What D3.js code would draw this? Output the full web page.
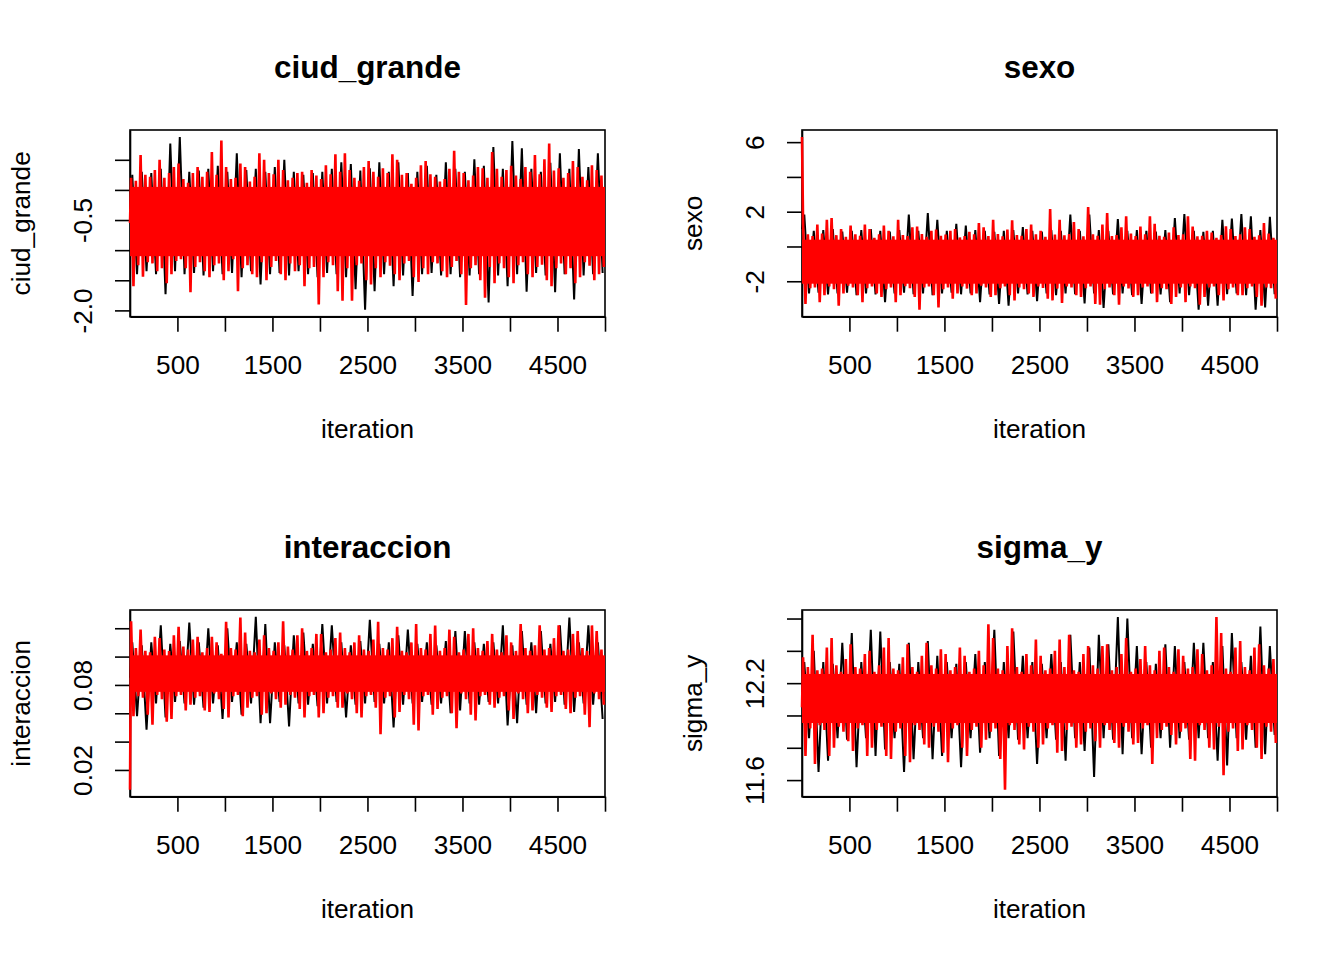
<!DOCTYPE html>
<html>
<head>
<meta charset="utf-8">
<script src="https://cdn.jsdelivr.net/npm/d3@7"></script>
<style>
body { margin: 0; background: #fff; }
svg { display: block; font-family: "Liberation Sans", Arial, sans-serif; }
</style>
</head>
<body>
<div id="main"></div>
<script>
// chains summarised per block of iterations: max (Hi) and min (Lo)
// red chain: blocks of 50 iterations (100 values), black chain: blocks of 100 (50 values)
// start = value at iteration 1, [black, red]

var xTicks = [500, 1000, 1500, 2000, 2500, 3000, 3500, 4000, 4500, 5000];
var xLabels = [500, 1500, 2500, 3500, 4500];

// ciud_grande
var ciudStart = [-0.45, -0.55];
var ciudRedHi = [0.20,0.15, 0.58,0.25, 0.22,0.33, 0.50,0.20, 0.28,0.38,
    0.44,0.18, 0.12,0.28, 0.38,0.22, 0.30,0.63, 0.25,0.82,
    0.38,0.18, 0.20,0.44, 0.38,0.14, 0.22,0.61, 0.50,0.28,
    0.26,0.50, 0.33,0.16, 0.20,0.28, 0.30,0.12, 0.33,0.24,
    0.18,0.41, 0.26,0.59, 0.30,0.61, 0.33,0.20, 0.15,0.38,
    0.48,0.30, 0.22,0.36, 0.28,0.59, 0.50,0.25, 0.28,0.10,
    0.20,0.41, 0.48,0.26, 0.22,0.14, 0.18,0.35, 0.65,0.30,
    0.28,0.16, 0.24,0.38, 0.36,0.20, 0.63,0.35, 0.22,0.33,
    0.40,0.24, 0.18,0.38, 0.30,0.58, 0.26,0.51, 0.77,0.32,
    0.36,0.20, 0.28,0.48, 0.38,0.22, 0.16,0.41, 0.33,0.24];
var ciudRedLo = [-1.60,-1.25, -1.44,-1.20, -1.22,-1.35, -1.30,-1.55, -1.40,-1.18,
    -1.15,-1.30, -1.70,-1.28, -1.20,-1.35, -1.45,-1.25, -1.22,-1.50,
    -1.35,-1.15, -1.68,-1.30, -1.25,-1.40, -1.45,-1.20, -1.50,-1.28,
    -1.18,-1.40, -1.50,-1.22, -1.35,-1.25, -1.60,-1.30, -1.28,-1.90,
    -1.45,-1.20, -1.25,-1.68, -1.84,-1.30, -1.84,-1.25, -1.22,-1.50,
    -1.57,-1.30, -1.45,-1.20, -1.26,-1.40, -1.50,-1.22, -1.18,-1.45,
    -1.53,-1.30, -1.40,-1.20, -1.22,-1.35, -1.45,-1.28, -1.18,-1.40,
    -1.91,-1.30, -1.25,-1.50, -1.79,-1.28, -1.55,-1.22, -1.30,-1.45,
    -1.55,-1.25, -1.20,-1.40, -1.45,-1.28, -1.24,-1.50, -1.60,-1.30,
    -1.22,-1.40, -1.30,-1.55, -1.45,-1.20, -1.26,-1.50, -1.40,-1.28];
var ciudBlackHi = [0.25,0.30,0.28,0.35,0.77,0.88,0.30,0.32,0.35,0.40,
    0.30,0.61,0.33,0.35,0.30,0.38,0.50,0.30,0.25,0.28,
    0.30,0.35,0.46,0.43,0.32,0.36,0.46,0.30,0.46,0.28,
    0.30,0.40,0.25,0.46,0.35,0.30,0.51,0.40,0.71,0.35,
    0.81,0.69,0.35,0.30,0.45,0.61,0.35,0.68,0.38,0.61];
var ciudBlackLo = [-1.40,-1.35,-1.40,-1.73,-1.35,-1.40,-1.38,-1.42,-1.35,-1.40,
    -1.38,-1.45,-1.35,-1.57,-1.40,-1.38,-1.42,-1.35,-1.40,-1.45,
    -1.38,-1.40,-1.45,-1.65,-1.99,-1.68,-1.40,-1.60,-1.42,-1.76,
    -1.40,-1.38,-1.42,-1.40,-1.45,-1.42,-1.40,-1.87,-1.42,-1.60,
    -1.40,-1.69,-1.38,-1.42,-1.70,-1.40,-1.82,-1.42,-1.40,-1.38];
var ciudTicks = [-2.0, -1.5, -1.0, -0.5, 0.0, 0.5];
var ciudTickLabels = ["-2.0", "", "", "-0.5", "", ""];

// sexo
var sexoStart = [1.0, 6.3];
var sexoRedHi = [1.26,0.70, 0.60,1.26, 0.75,1.54, 1.64,0.65, 1.00,0.55,
    1.20,0.70, 0.62,1.26, 1.00,0.50, 0.70,1.20, 0.90,0.58,
    1.54,0.66, 0.60,1.10, 1.14,0.72, 0.55,0.90, 0.97,0.62,
    0.68,0.90, 1.00,0.52, 0.60,0.85, 0.70,1.35, 1.10,0.60,
    1.54,0.72, 0.58,0.97, 1.51,0.66, 0.62,1.00, 1.26,0.70,
    0.90,0.55, 2.15,0.68, 1.54,0.64, 0.72,1.40, 1.00,0.58,
    2.27,0.70, 0.62,1.26, 1.92,0.60, 0.66,1.10, 1.73,0.74,
    0.60,1.14, 0.70,1.73, 1.30,0.62, 0.55,0.80, 1.10,0.66,
    0.70,1.73, 1.14,0.58, 0.62,0.90, 0.80,0.50, 0.66,1.16,
    1.00,0.60, 0.70,1.10, 1.00,0.55, 0.64,1.35, 0.75,0.50];
var sexoRedLo = [-3.31,-2.40, -2.35,-3.20, -2.80,-2.30, -2.45,-3.41, -2.70,-2.25,
    -2.35,-2.80, -3.20,-2.40, -2.30,-2.70, -2.90,-2.45, -2.35,-3.20,
    -2.80,-2.28, -2.40,-2.90, -3.64,-2.35, -2.30,-2.80, -3.50,-2.45,
    -2.35,-3.00, -2.70,-2.30, -2.42,-2.80, -2.70,-2.25, -2.35,-2.90,
    -2.80,-2.40, -2.30,-2.80, -3.10,-2.35, -2.45,-2.70, -2.90,-2.30,
    -2.38,-3.00, -3.10,-2.42, -3.25,-2.30, -2.35,-2.80, -2.90,-2.40,
    -2.30,-3.30, -3.35,-2.45, -2.35,-2.80, -3.35,-2.30, -2.42,-2.90,
    -2.80,-2.35, -2.30,-2.70, -3.20,-2.40, -2.45,-3.30, -2.90,-2.35,
    -3.20,-2.30, -2.40,-3.35, -2.90,-2.35, -2.30,-2.80, -3.10,-2.45,
    -2.35,-2.80, -2.80,-2.40, -2.30,-2.90, -3.40,-2.35, -2.40,-3.00];
var sexoBlackHi = [1.83,0.90,0.95,1.00,0.85,0.90,0.95,1.00,0.90,0.85,
    0.95,1.83,0.90,1.92,1.54,0.90,1.30,1.20,0.95,0.90,
    0.85,0.90,0.95,1.12,0.90,0.85,0.95,0.90,1.83,0.90,
    1.83,0.95,0.90,1.58,0.90,0.95,0.90,0.85,0.95,1.64,
    1.87,0.90,0.85,0.90,1.54,1.60,1.87,1.73,0.95,1.70];
var sexoBlackLo = [-2.70,-2.65,-2.75,-2.70,-2.65,-2.80,-2.70,-2.75,-3.20,-2.70,
    -2.65,-2.75,-2.70,-2.80,-2.70,-2.65,-2.75,-2.70,-3.20,-2.75,
    -3.31,-3.41,-2.70,-2.75,-3.15,-2.70,-2.80,-2.70,-2.75,-3.28,
    -2.70,-3.54,-2.75,-2.70,-2.80,-3.31,-2.70,-2.75,-3.20,-2.70,
    -2.80,-3.64,-3.41,-3.41,-2.75,-2.70,-2.80,-3.64,-3.50,-2.75];
var sexoTicks = [-2, 0, 2, 4, 6];
var sexoTickLabels = ["-2", "", "2", "", "6"];

// interaccion
var interStart = [0.085, 0.006];
var interRedHi = [0.125,0.106, 0.119,0.104, 0.103,0.114, 0.113,0.105, 0.104,0.115,
    0.121,0.107, 0.105,0.112, 0.114,0.103, 0.106,0.114, 0.110,0.102,
    0.1245,0.106, 0.105,0.1276, 0.117,0.104, 0.103,0.112, 0.115,0.106,
    0.104,0.110, 0.125,0.107, 0.105,0.115, 0.120,0.104, 0.106,0.116,
    0.116,0.103, 0.105,0.113, 0.117,0.106, 0.103,0.110, 0.115,0.105,
    0.104,0.112, 0.1245,0.106, 0.105,0.113, 0.121,0.104, 0.103,0.110,
    0.123,0.106, 0.105,0.116, 0.122,0.104, 0.106,0.119, 0.114,0.103,
    0.105,0.116, 0.120,0.106, 0.104,0.111, 0.116,0.105, 0.103,0.115,
    0.110,0.104, 0.123,0.106, 0.104,0.108, 0.122,0.105, 0.106,0.113,
    0.122,0.104, 0.105,0.116, 0.118,0.106, 0.104,0.122, 0.118,0.105];
var interRedLo = [0.058,0.072, 0.071,0.059, 0.052,0.073, 0.070,0.054, 0.056,0.072,
    0.073,0.062, 0.066,0.071, 0.072,0.062, 0.061,0.074, 0.070,0.063,
    0.057,0.072, 0.073,0.058, 0.064,0.071, 0.072,0.059, 0.060,0.074,
    0.070,0.064, 0.066,0.073, 0.071,0.063, 0.057,0.072, 0.073,0.057,
    0.060,0.071, 0.072,0.064, 0.064,0.074, 0.070,0.060, 0.057,0.072,
    0.073,0.064, 0.0453,0.071, 0.072,0.057, 0.061,0.073, 0.070,0.052,
    0.0479,0.072, 0.073,0.059, 0.063,0.071, 0.072,0.060, 0.0495,0.074,
    0.070,0.059, 0.055,0.072, 0.073,0.066, 0.064,0.071, 0.072,0.062,
    0.056,0.074, 0.070,0.060, 0.062,0.073, 0.071,0.064, 0.061,0.072,
    0.073,0.063, 0.060,0.071, 0.072,0.059, 0.0502,0.074, 0.070,0.066];
var interBlackHi = [0.110,0.108,0.110,0.122,0.109,0.111,0.124,0.110,0.120,0.108,
    0.120,0.110,0.109,0.128,0.123,0.110,0.108,0.115,0.117,0.109,
    0.123,0.122,0.110,0.108,0.111,0.126,0.109,0.110,0.115,0.119,
    0.109,0.110,0.108,0.111,0.118,0.118,0.110,0.109,0.110,0.122,
    0.108,0.118,0.110,0.118,0.109,0.122,0.1276,0.110,0.122,0.110];
var interBlackLo = [0.058,0.0484,0.067,0.057,0.068,0.067,0.066,0.064,0.067,0.056,
    0.068,0.059,0.067,0.053,0.053,0.068,0.0507,0.067,0.066,0.065,
    0.067,0.068,0.057,0.066,0.067,0.068,0.067,0.050,0.066,0.067,
    0.068,0.066,0.067,0.060,0.062,0.067,0.066,0.068,0.067,0.0514,
    0.053,0.066,0.060,0.067,0.068,0.066,0.061,0.067,0.066,0.056];
var interTicks = [0.02, 0.04, 0.06, 0.08, 0.10, 0.12];
var interTickLabels = ["0.02", "", "", "0.08", "", ""];

// sigma_y
var sigmaStart = [12.1, 12.05];
var sigmaRedHi = [12.36,12.30, 12.50,12.28, 12.29,12.42, 12.48,12.31, 12.27,12.35,
    12.44,12.30, 12.29,12.38, 12.40,12.27, 12.31,12.42, 12.48,12.29,
    12.28,12.36, 12.44,12.30, 12.27,12.37, 12.45,12.31, 12.29,12.41,
    12.38,12.28, 12.30,12.42, 12.37,12.27, 12.29,12.40, 12.31,12.565,
    12.48,12.29, 12.28,12.43, 12.54,12.30, 12.27,12.38, 12.31,12.47,
    12.37,12.28, 12.29,12.40, 12.47,12.30, 12.50,12.28, 12.27,12.38,
    12.43,12.31, 12.29,12.43, 12.44,12.28, 12.30,12.38, 12.48,12.27,
    12.29,12.35, 12.43,12.31, 12.28,12.40, 12.42,12.30, 12.27,12.41,
    12.37,12.29, 12.30,12.41, 12.38,12.28, 12.31,12.61, 12.51,12.29,
    12.27,12.42, 12.46,12.30, 12.28,12.42, 12.44,12.31, 12.29,12.35];
var sigmaRedLo = [11.75,11.92, 11.70,11.94, 11.91,11.75, 11.80,11.93, 11.90,11.84,
    11.78,11.92, 11.94,11.75, 11.80,11.91, 11.93,11.75, 11.73,11.90,
    11.92,11.75, 11.71,11.94, 11.91,11.82, 11.80,11.93, 11.90,11.77,
    11.71,11.92, 11.94,11.80, 11.75,11.91, 11.93,11.80, 11.85,11.90,
    11.92,11.73, 11.54,11.94, 11.91,11.82, 11.79,11.93, 11.90,11.80,
    11.82,11.92, 11.94,11.77, 11.78,11.91, 11.93,11.80, 11.82,11.90,
    11.92,11.84, 11.80,11.94, 11.91,11.83, 11.80,11.93, 11.90,11.82,
    11.83,11.92, 11.94,11.70, 11.86,11.91, 11.93,11.88, 11.82,11.90,
    11.92,11.73, 11.72,11.94, 11.91,11.80, 11.79,11.93, 11.63,11.90,
    11.92,11.78, 11.79,11.94, 11.91,11.80, 11.73,11.93, 11.90,11.83];
var sigmaBlackHi = [12.33,12.40,12.33,12.32,12.45,12.51,12.33,12.53,12.52,12.33,
    12.32,12.45,12.33,12.46,12.37,12.33,12.32,12.33,12.38,12.33,
    12.53,12.33,12.52,12.37,12.33,12.32,12.38,12.33,12.50,12.33,
    12.42,12.50,12.44,12.61,12.60,12.43,12.33,12.32,12.44,12.43,
    12.33,12.45,12.45,12.33,12.43,12.51,12.33,12.37,12.55,12.43];
var sigmaBlackLo = [11.86,11.65,11.72,11.86,11.85,11.68,11.86,11.75,11.79,11.86,
    11.65,11.73,11.86,11.73,11.75,11.86,11.68,11.86,11.77,11.86,
    11.75,11.86,11.85,11.86,11.70,11.86,11.85,11.72,11.86,11.78,
    11.62,11.86,11.85,11.76,11.86,11.76,11.80,11.86,11.80,11.86,
    11.85,11.86,11.86,11.72,11.69,11.86,11.85,11.80,11.76,11.88];
var sigmaTicks = [11.6, 11.8, 12.0, 12.2, 12.4, 12.6];
var sigmaTickLabels = ["11.6", "", "", "12.2", "", ""];

(function () {

    var W = 1344, H = 960, N_ITER = 5000;
    var colLeft = [130, 802], rowTop = [130, 610];
    var plotW = 475, plotH = 186.7;
    var fontBase = 26.2;

    var panels = [
        {name: "ciud_grande", col: 0, row: 0, start: ciudStart,
            black: [ciudBlackHi, ciudBlackLo], red: [ciudRedHi, ciudRedLo],
            ticks: ciudTicks, labels: ciudTickLabels},
        {name: "sexo", col: 1, row: 0, start: sexoStart,
            black: [sexoBlackHi, sexoBlackLo], red: [sexoRedHi, sexoRedLo],
            ticks: sexoTicks, labels: sexoTickLabels},
        {name: "interaccion", col: 0, row: 1, start: interStart,
            black: [interBlackHi, interBlackLo], red: [interRedHi, interRedLo],
            ticks: interTicks, labels: interTickLabels},
        {name: "sigma_y", col: 1, row: 1, start: sigmaStart,
            black: [sigmaBlackHi, sigmaBlackLo], red: [sigmaRedHi, sigmaRedLo],
            ticks: sigmaTicks, labels: sigmaTickLabels}
    ];

    var svg = d3.select("#main").append("svg")
        .attr("width", W).attr("height", H);
    svg.append("rect").attr("width", W).attr("height", H).attr("fill", "#fff");

    panels.forEach(drawPanel);

    function chainPoints(start, hi, lo) {
        // max then min inside each block
        var step = N_ITER / hi.length;
        var pts = [[1, start]];
        hi.forEach(function (h, i) {
            pts.push([i * step + step / 4, h]);
            pts.push([i * step + step * 3 / 4, lo[i]]);
        });
        return pts;
    }

    function drawChain(g, x, y, color, hi, lo, start, solid, width) {
        var line = d3.line()
            .x(function (d) { return x(d[0]); })
            .y(function (d) { return y(d[1]); });

        if (solid) {
            // band that every block of the chain runs through
            var inner = d3.max(lo), outer = d3.min(hi);
            var trim = (outer - inner) * 0.04;
            g.append("rect")
                .attr("x", x(1))
                .attr("y", y(outer - trim))
                .attr("width", x(N_ITER) - x(1))
                .attr("height", y(inner + trim) - y(outer - trim))
                .attr("fill", color);
        }

        g.append("path")
            .datum(chainPoints(start, hi, lo))
            .attr("d", line)
            .attr("fill", "none")
            .attr("stroke", color)
            .attr("stroke-width", width)
            .attr("stroke-linejoin", "miter");
    }

    function drawPanel(p) {
        var left = colLeft[p.col], top = rowTop[p.row];
        var right = left + plotW, bottom = top + plotH;

        var all = [].concat(p.start, p.black[0], p.black[1], p.red[0], p.red[1]);
        var ext = d3.extent(all);
        var pad = (ext[1] - ext[0]) * 0.04;

        var x = d3.scaleLinear().domain([1, N_ITER]).range([left, right]);
        var y = d3.scaleLinear().domain([ext[0] - pad, ext[1] + pad]).range([bottom, top]);

        var g = svg.append("g");

        // first chain, then axes and box, then second chain (as matplot does)
        drawChain(g, x, y, "#000000", p.black[0], p.black[1], p.start[0], false, 2);

        var xAxis = d3.axisBottom(x)
            .tickValues(xTicks)
            .tickSize(15).tickSizeOuter(0)
            .tickFormat(function (d) { return xLabels.indexOf(d) >= 0 ? d : ""; });
        var gx = g.append("g")
            .attr("transform", "translate(0," + bottom + ")")
            .call(xAxis)
            .attr("font-size", null).attr("font-family", null);
        gx.selectAll("text")
            .attr("y", 57.6).attr("dy", null)
            .attr("fill", "#000")
            .style("font-size", fontBase + "px");

        var yAxis = d3.axisLeft(y)
            .tickValues(p.ticks)
            .tickSize(15).tickSizeOuter(0)
            .tickFormat(function (d, i) { return p.labels[i]; });
        var gy = g.append("g")
            .attr("transform", "translate(" + left + ",0)")
            .call(yAxis)
            .attr("font-size", null).attr("font-family", null);
        gy.selectAll("text")
            .attr("x", 0).attr("y", -38).attr("dy", null)
            .attr("transform", "rotate(-90)")
            .attr("text-anchor", "middle")
            .attr("fill", "#000")
            .style("font-size", fontBase + "px");

        g.selectAll(".tick line, .domain")
            .attr("stroke", "#000")
            .attr("stroke-width", 1.6);

        g.append("rect")
            .attr("x", left).attr("y", top)
            .attr("width", plotW).attr("height", plotH)
            .attr("fill", "none")
            .attr("stroke", "#000")
            .attr("stroke-width", 1.6);

        drawChain(g, x, y, "#ff0000", p.red[0], p.red[1], p.start[1], true, 2.6);

        // titles
        g.append("text")
            .attr("x", (left + right) / 2).attr("y", top - 52)
            .attr("text-anchor", "middle")
            .style("font-size", (fontBase * 1.2) + "px")
            .style("font-weight", "bold")
            .text(p.name);

        g.append("text")
            .attr("x", (left + right) / 2).attr("y", bottom + 121.5)
            .attr("text-anchor", "middle")
            .style("font-size", fontBase + "px")
            .text("iteration");

        g.append("text")
            .attr("transform", "translate(" + (left - 100) + "," + ((top + bottom) / 2) + ") rotate(-90)")
            .attr("text-anchor", "middle")
            .style("font-size", fontBase + "px")
            .text(p.name);
    }

})();
</script>
</body>
</html>
